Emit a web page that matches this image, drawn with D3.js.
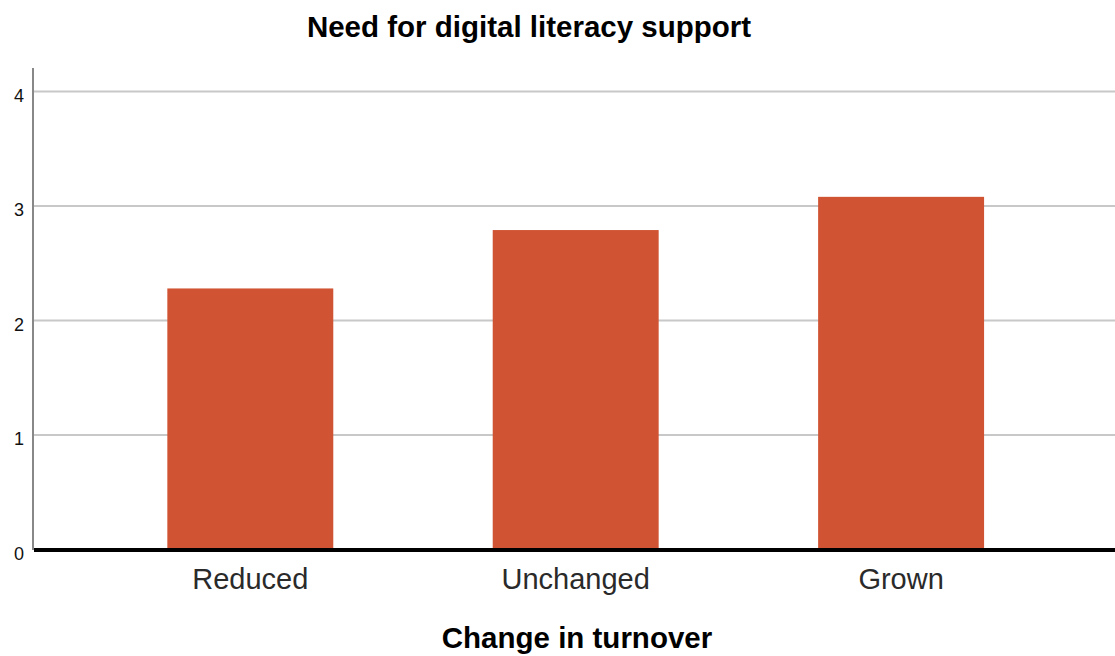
<!DOCTYPE html>
<html><head><meta charset="utf-8">
<script src="https://cdn.jsdelivr.net/npm/d3@7"></script>
<style>body{margin:0;background:#fff}svg{display:block}</style>
</head><body>
<svg id="c" width="1115" height="656"></svg>
<script>
const categories = ["Reduced", "Unchanged", "Grown"];
const values = [2.28, 2.79, 3.08];
const yTicks = [0, 1, 2, 3, 4];
const title = "Need for digital literacy support";
const xTitle = "Change in turnover";

const svg = d3.select("#c");
const font = "'Liberation Sans', Arial, sans-serif";
const y = d3.scaleLinear().domain([0, 4]).range([549.5, 91.5]);
const x = d3.scaleBand().domain(categories).range([87.6, 1063.8]).paddingInner(0.49).paddingOuter(0.245);

// gridlines
svg.append("g").selectAll("line").data(yTicks.filter(d => d > 0)).join("line")
  .attr("x1", 34).attr("x2", 1115)
  .attr("y1", d => y(d)).attr("y2", d => y(d))
  .attr("stroke", "#c8c8c8").attr("stroke-width", 2);

// bars
svg.append("g").selectAll("rect").data(values).join("rect")
  .attr("x", (d, i) => x(categories[i]))
  .attr("width", x.bandwidth())
  .attr("y", d => y(d))
  .attr("height", d => y(0) - y(d))
  .attr("fill", "#d05434");

// y axis
const yAxis = d3.axisLeft(y).tickValues(yTicks).tickFormat(d3.format("d")).tickSize(0).tickPadding(10);
const gy = svg.append("g").attr("transform", "translate(33,0)").call(yAxis);
gy.select(".domain").attr("stroke", "#888").attr("stroke-width", 2).attr("d", "M0,68V550");
gy.selectAll("text").attr("font-family", font).attr("font-size", 18).attr("fill", "#111")
  .attr("x", -9).attr("dy", "0.55em");

// x axis
const xAxis = d3.axisBottom(x).tickSize(0).tickPadding(18);
const gx = svg.append("g").attr("transform", "translate(0," + 550 + ")").call(xAxis);
gx.select(".domain").remove();
gx.append("line").attr("x1", 34).attr("x2", 1115).attr("y1", 0).attr("y2", 0)
  .attr("stroke", "#000").attr("stroke-width", 4);
gx.selectAll(".tick text").attr("font-family", font).attr("font-size", 29).attr("fill", "#2a2a2a");

// titles
svg.append("text").attr("x", 529).attr("y", 37).attr("text-anchor", "middle")
  .attr("font-family", font).attr("font-weight", "bold").attr("font-size", 29.5).text(title);
svg.append("text").attr("x", 577).attr("y", 648).attr("text-anchor", "middle")
  .attr("font-family", font).attr("font-weight", "bold").attr("font-size", 29.5).text(xTitle);
</script>
</body></html>
